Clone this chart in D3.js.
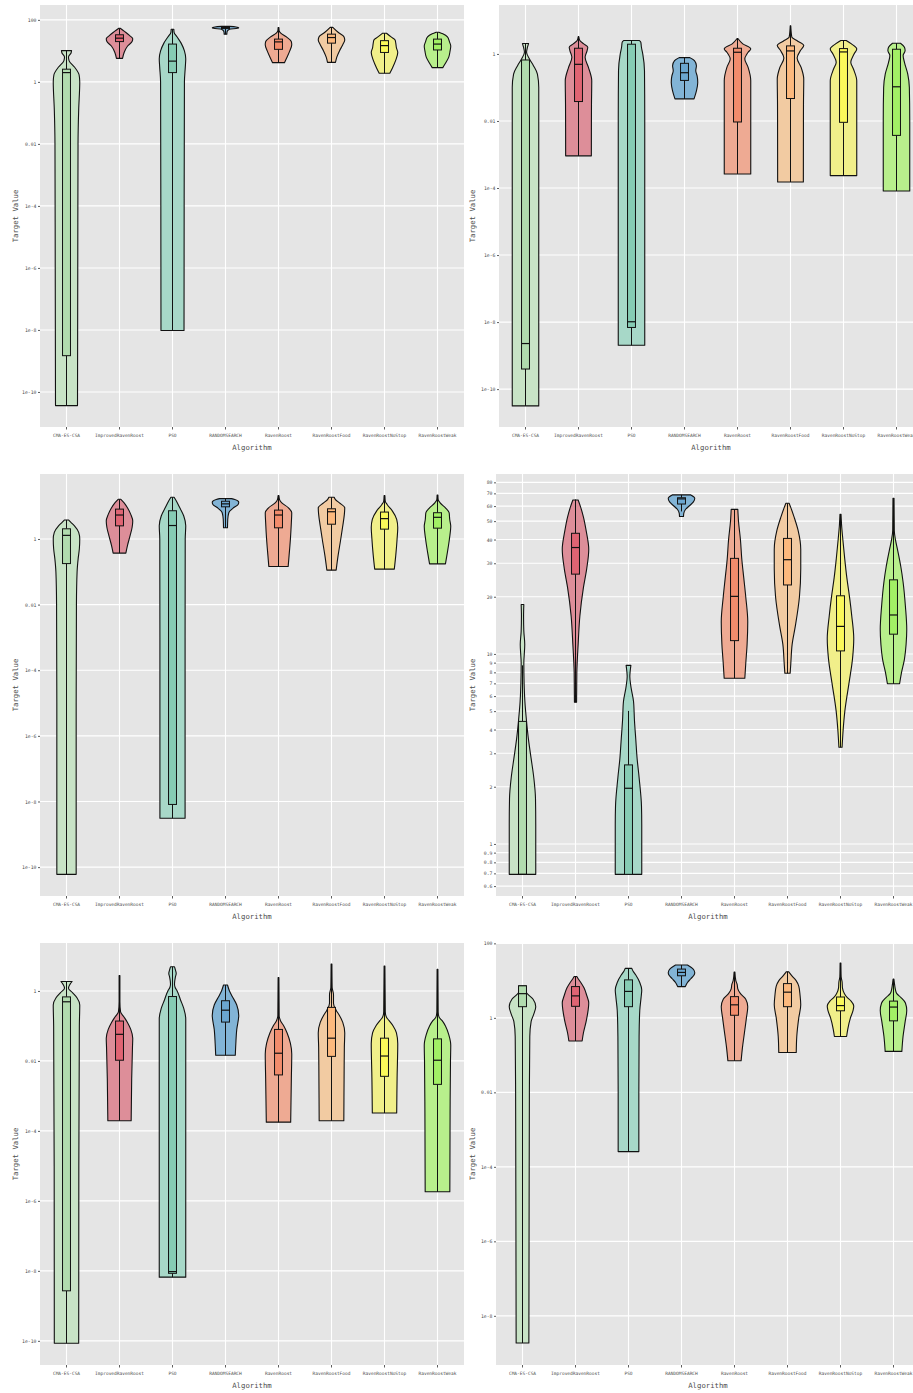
<!DOCTYPE html>
<html>
<head>
<meta charset="utf-8">
<script src="https://cdn.jsdelivr.net/npm/d3@7"></script>
<style>
  body { margin: 0; background: #fff; }
  svg { display: block; }
</style>
</head>
<body>
<div id="chart"></div>
<script>
// algorithms on the x axis, same order in every panel
const algorithms = ['CMA-ES-CSA', 'ImprovedRavenRoost', 'PSO', 'RANDOMSEARCH',
  'RavenRoost', 'RavenRoostFood', 'RavenRoostNoStop', 'RavenRoostWeak'];
const violinFills = ['#c8e3c6', '#dd8e99', '#a7d8c8', '#82b4d6', '#eeaa93', '#f2cba2', '#f1ef8a', '#b8ef8c'];
const boxFills = ['#b1dcae', '#e06473', '#86ccb4', '#6ba6d0', '#f28c6c', '#fdb97d', '#fbf95a', '#a2f065'];

// All values below are log10(Target Value).
// boxes: [low whisker, q1, median, q3, high whisker]
// violins: [value, relative half width] from bottom to top

// panel 1 (top left)
const p1Range = [-11.13, 2.48];
const p1Ticks = [100, 1, 0.01, 1e-4, 1e-6, 1e-8, 1e-10];
const p1TickLabels = ['100', '1', '0.01', '1e-4', '1e-6', '1e-8', '1e-10'];
const p1Boxes = [
  [-10.44, -8.83, 0.30, 0.41, 1.01], [0.76, 1.30, 1.41, 1.52, 1.73],
  [-8.02, 0.30, 0.67, 1.22, 1.70], [1.54, 1.72, 1.75, 1.77, 1.79],
  [0.62, 1.05, 1.29, 1.38, 1.75], [0.63, 1.25, 1.43, 1.54, 1.76],
  [0.28, 0.95, 1.17, 1.33, 1.57], [0.46, 1.03, 1.22, 1.38, 1.60]];
const p1Violins = [
  [[-10.44, 0.83], [-6, 0.85], [-2, 0.87], [-0.9, 0.92], [0, 1.0], [0.23, 0.95], [0.48, 0.6], [0.68, 0.2], [0.8, 0.15], [0.94, 0.35], [1.01, 0.38]],
  [[0.76, 0.23], [0.95, 0.35], [1.15, 0.6], [1.3, 0.95], [1.39, 1.0], [1.5, 0.75], [1.62, 0.4], [1.73, 0.05]],
  [[-8.02, 0.87], [-4, 0.88], [0, 0.9], [0.5, 0.97], [0.75, 1.0], [1.0, 0.9], [1.25, 0.65], [1.45, 0.35], [1.6, 0.12], [1.7, 0.1]],
  [[1.54, 0.1], [1.62, 0.12], [1.70, 0.3], [1.73, 0.9], [1.75, 1.0], [1.77, 0.8], [1.79, 0.3]],
  [[0.62, 0.45], [0.8, 0.65], [1.0, 0.85], [1.2, 1.0], [1.3, 0.97], [1.45, 0.6], [1.58, 0.15], [1.65, 0.05], [1.75, 0.03]],
  [[0.63, 0.3], [0.8, 0.4], [1.0, 0.6], [1.2, 0.85], [1.35, 1.0], [1.45, 0.95], [1.6, 0.5], [1.76, 0.1]],
  [[0.28, 0.4], [0.45, 0.6], [0.7, 0.85], [0.95, 1.0], [1.1, 0.9], [1.25, 0.85], [1.35, 0.8], [1.45, 0.5], [1.57, 0.15]],
  [[0.46, 0.4], [0.6, 0.6], [0.8, 0.85], [1.0, 0.95], [1.15, 1.0], [1.3, 0.9], [1.45, 0.75], [1.55, 0.4], [1.60, 0.1]]];

// panel 2 (top right)
const p2Range = [-11.13, 1.46];
const p2Ticks = [1, 0.01, 1e-4, 1e-6, 1e-8, 1e-10];
const p2TickLabels = ['1', '0.01', '1e-4', '1e-6', '1e-8', '1e-10'];
const p2Boxes = [
  [-10.5, -9.40, -8.64, -0.18, 0.31], [-3.04, -1.42, -0.31, 0.17, 0.52],
  [-8.69, -8.16, -7.99, 0.29, 0.40], [-1.34, -0.79, -0.56, -0.28, -0.11],
  [-3.58, -2.03, 0.05, 0.17, 0.46], [-3.82, -1.33, 0.09, 0.24, 0.84],
  [-3.63, -2.04, 0.06, 0.16, 0.40], [-4.09, -2.43, -0.98, 0.14, 0.32]];
const p2Violins = [
  [[-10.5, 1.0], [-5, 1.0], [-1, 1.0], [-0.6, 0.9], [-0.35, 0.6], [-0.15, 0.3], [0.05, 0.08], [0.2, 0.15], [0.31, 0.23]],
  [[-3.04, 0.97], [-1.5, 0.98], [-0.8, 1.0], [-0.4, 0.75], [-0.1, 0.5], [0.1, 0.65], [0.2, 0.7], [0.3, 0.4], [0.4, 0.1], [0.52, 0.02]],
  [[-8.69, 1.0], [-2, 1.0], [-0.5, 0.98], [0, 0.85], [0.2, 0.75], [0.35, 0.7], [0.40, 0.6]],
  [[-1.34, 0.72], [-1.1, 0.9], [-0.85, 1.0], [-0.65, 0.95], [-0.5, 0.85], [-0.35, 0.9], [-0.2, 0.75], [-0.11, 0.4]],
  [[-3.58, 1.0], [-1.5, 1.0], [-0.8, 1.0], [-0.4, 0.8], [-0.15, 0.55], [0.05, 0.8], [0.15, 1.0], [0.3, 0.4], [0.46, 0.03]],
  [[-3.82, 0.97], [-1.5, 0.98], [-0.75, 1.0], [-0.4, 0.8], [-0.12, 0.5], [0.1, 0.75], [0.25, 1.0], [0.38, 0.55], [0.5, 0.1], [0.84, 0.02]],
  [[-3.63, 1.0], [-1.5, 1.0], [-0.8, 1.0], [-0.45, 0.75], [-0.25, 0.55], [0, 0.8], [0.15, 1.0], [0.3, 0.6], [0.4, 0.2]],
  [[-4.09, 1.0], [-2, 1.0], [-1.0, 0.97], [-0.6, 0.85], [-0.25, 0.6], [-0.05, 0.5], [0.1, 0.65], [0.2, 0.6], [0.32, 0.3]]];

// panel 3 (middle left)
const p3Range = [-10.88, 1.98];
const p3Ticks = [1, 0.01, 1e-4, 1e-6, 1e-8, 1e-10];
const p3TickLabels = ['1', '0.01', '1e-4', '1e-6', '1e-8', '1e-10'];
const p3Boxes = [
  [-10.22, -0.75, 0.11, 0.31, 0.58], [-0.43, 0.40, 0.73, 0.91, 1.21],
  [-8.51, -8.09, 0.41, 0.86, 1.27], [0.34, 0.98, 1.07, 1.15, 1.23],
  [-0.84, 0.34, 0.73, 0.88, 1.32], [-0.95, 0.45, 0.83, 0.92, 1.27],
  [-0.92, 0.30, 0.62, 0.82, 1.32], [-0.76, 0.33, 0.66, 0.80, 1.34]];
const p3Violins = [
  [[-10.22, 0.73], [-5, 0.73], [-2, 0.75], [-1, 0.8], [-0.6, 0.88], [-0.3, 0.97], [0, 1.0], [0.2, 0.92], [0.4, 0.6], [0.5, 0.35], [0.58, 0.15]],
  [[-0.43, 0.48], [-0.2, 0.6], [0.1, 0.8], [0.35, 0.95], [0.55, 1.0], [0.75, 0.85], [0.95, 0.6], [1.1, 0.35], [1.21, 0.1]],
  [[-8.51, 0.95], [-3, 0.95], [0, 0.96], [0.4, 1.0], [0.7, 0.85], [0.95, 0.55], [1.15, 0.3], [1.27, 0.12]],
  [[0.34, 0.15], [0.6, 0.17], [0.8, 0.25], [0.95, 0.6], [1.05, 0.95], [1.12, 1.0], [1.2, 0.7], [1.23, 0.45]],
  [[-0.84, 0.73], [-0.5, 0.8], [0, 0.9], [0.5, 0.97], [0.8, 1.0], [0.95, 0.75], [1.1, 0.25], [1.2, 0.08], [1.32, 0.03]],
  [[-0.95, 0.35], [-0.5, 0.5], [0, 0.7], [0.4, 0.85], [0.75, 0.97], [0.95, 1.0], [1.1, 0.6], [1.2, 0.3], [1.27, 0.2]],
  [[-0.92, 0.74], [-0.5, 0.85], [0, 0.95], [0.35, 1.0], [0.6, 0.92], [0.85, 0.6], [1.05, 0.2], [1.15, 0.06], [1.32, 0.03]],
  [[-0.76, 0.6], [-0.4, 0.75], [0, 0.9], [0.38, 1.0], [0.6, 0.92], [0.8, 0.88], [0.95, 0.6], [1.1, 0.2], [1.2, 0.05], [1.34, 0.03]]];

// panel 4 (middle right)
const p4Range = [-0.274, 1.947];
const p4Ticks = [80, 70, 60, 50, 40, 30, 20, 10, 9, 8, 7, 6, 5, 4, 3, 2, 1, 0.9, 0.8, 0.7, 0.6];
const p4TickLabels = ['80', '70', '60', '50', '40', '30', '20', '10', '9', '8', '7', '6', '5', '4', '3', '2', '1', '0.9', '0.8', '0.7', '0.6'];
const p4Boxes = [
  [-0.16, -0.16, -0.16, 0.645, 0.94], [0.746, 1.42, 1.56, 1.635, 1.813],
  [-0.16, -0.16, 0.293, 0.416, 0.70], [1.75, 1.789, 1.816, 1.822, 1.837],
  [0.872, 1.07, 1.303, 1.503, 1.761], [0.898, 1.363, 1.496, 1.608, 1.793],
  [0.509, 1.016, 1.145, 1.306, 1.735], [0.843, 1.104, 1.205, 1.39, 1.819]];
const p4Violins = [
  [[-0.16, 1.0], [0.1, 1.0], [0.24, 0.98], [0.35, 0.85], [0.45, 0.65], [0.55, 0.45], [0.65, 0.3], [0.75, 0.18], [0.85, 0.12], [0.95, 0.1], [1.05, 0.17], [1.12, 0.1], [1.2, 0.08], [1.26, 0.1]],
  [[0.746, 0.08], [0.9, 0.1], [1.05, 0.2], [1.2, 0.33], [1.35, 0.6], [1.45, 0.85], [1.55, 1.0], [1.65, 0.8], [1.72, 0.6], [1.77, 0.4], [1.81, 0.2]],
  [[-0.16, 1.0], [0.1, 1.0], [0.2, 0.98], [0.35, 0.8], [0.45, 0.65], [0.55, 0.55], [0.65, 0.45], [0.75, 0.38], [0.82, 0.2], [0.88, 0.1], [0.94, 0.18]],
  [[1.723, 0.15], [1.74, 0.17], [1.76, 0.3], [1.78, 0.6], [1.80, 0.9], [1.82, 1.0], [1.837, 0.7]],
  [[0.872, 0.78], [0.95, 0.85], [1.05, 0.95], [1.17, 1.0], [1.3, 0.85], [1.4, 0.7], [1.5, 0.55], [1.6, 0.45], [1.7, 0.3], [1.761, 0.25]],
  [[0.898, 0.2], [0.95, 0.25], [1.05, 0.35], [1.15, 0.6], [1.3, 0.9], [1.45, 1.0], [1.55, 1.0], [1.65, 0.8], [1.72, 0.5], [1.77, 0.25], [1.793, 0.12]],
  [[0.509, 0.12], [0.6, 0.2], [0.7, 0.33], [0.85, 0.65], [0.97, 0.9], [1.08, 1.0], [1.2, 0.85], [1.3, 0.68], [1.4, 0.48], [1.5, 0.32], [1.6, 0.18], [1.68, 0.08], [1.735, 0.04]],
  [[0.843, 0.46], [0.9, 0.6], [0.97, 0.82], [1.05, 0.95], [1.13, 1.0], [1.25, 0.9], [1.38, 0.72], [1.46, 0.55], [1.55, 0.3], [1.6, 0.15], [1.65, 0.06], [1.819, 0.04]]];

// panel 5 (bottom left)
const p5Range = [-10.69, 1.37];
const p5Ticks = [1, 0.01, 1e-4, 1e-6, 1e-8, 1e-10];
const p5TickLabels = ['1', '0.01', '1e-4', '1e-6', '1e-8', '1e-10'];
const p5Boxes = [
  [-10.07, -8.57, -0.31, -0.17, 0.27], [-3.71, -1.98, -1.24, -0.86, 0.44],
  [-8.18, -8.07, -8.02, -0.16, 0.69], [-1.84, -0.89, -0.55, -0.28, 0.17],
  [-3.75, -2.40, -1.78, -1.10, 0.38], [-3.71, -1.87, -1.35, -0.47, 0.77],
  [-3.49, -2.44, -1.86, -1.35, 0.71], [-5.74, -2.67, -1.98, -1.37, 0.62]];
const p5Violins = [
  [[-10.07, 0.92], [-5, 0.93], [-1, 0.97], [-0.4, 1.0], [-0.2, 0.8], [-0.05, 0.45], [0.08, 0.15], [0.18, 0.25], [0.27, 0.42]],
  [[-3.71, 0.88], [-2.5, 0.92], [-1.6, 0.98], [-1.35, 1.0], [-1.1, 0.85], [-0.9, 0.6], [-0.75, 0.35], [-0.6, 0.08], [-0.3, 0.03], [0.44, 0.03]],
  [[-8.18, 1.0], [-2, 1.0], [-0.8, 1.0], [-0.5, 0.85], [-0.25, 0.6], [0, 0.35], [0.1, 0.2], [0.2, 0.15], [0.4, 0.22], [0.5, 0.28], [0.6, 0.22], [0.69, 0.15]],
  [[-1.84, 0.74], [-1.5, 0.78], [-1.1, 0.85], [-0.7, 1.0], [-0.4, 0.85], [-0.15, 0.5], [0, 0.3], [0.17, 0.15]],
  [[-3.75, 0.92], [-2.5, 0.97], [-1.8, 1.0], [-1.5, 0.9], [-1.2, 0.65], [-1.0, 0.4], [-0.85, 0.15], [-0.7, 0.05], [0.38, 0.03]],
  [[-3.71, 0.93], [-2.5, 0.95], [-1.6, 0.97], [-1.2, 1.0], [-0.9, 0.85], [-0.7, 0.6], [-0.55, 0.35], [-0.35, 0.15], [-0.1, 0.15], [0.1, 0.05], [0.77, 0.03]],
  [[-3.49, 0.92], [-2.5, 0.95], [-1.5, 1.0], [-1.2, 0.9], [-1.0, 0.65], [-0.85, 0.35], [-0.75, 0.15], [-0.6, 0.06], [0.71, 0.03]],
  [[-5.74, 0.93], [-3.5, 0.95], [-2, 0.98], [-1.55, 1.0], [-1.25, 0.85], [-1.0, 0.6], [-0.85, 0.35], [-0.75, 0.12], [-0.6, 0.05], [0.62, 0.03]]];

// panel 6 (bottom right)
const p6Range = [-9.32, 2.01];
const p6Ticks = [100, 1, 0.01, 1e-4, 1e-6, 1e-8];
const p6TickLabels = ['100', '1', '0.01', '1e-4', '1e-6', '1e-8'];
const p6Boxes = [
  [-8.73, 0.30, 0.65, 0.86, 0.86], [-0.62, 0.31, 0.59, 0.84, 1.11],
  [-3.59, 0.30, 0.71, 1.02, 1.33], [0.84, 1.13, 1.22, 1.31, 1.42],
  [-1.15, 0.07, 0.35, 0.57, 1.23], [-0.93, 0.30, 0.69, 0.92, 1.24],
  [-0.5, 0.19, 0.33, 0.56, 1.47], [-0.9, -0.08, 0.29, 0.45, 1.04]];
const p6Violins = [
  [[-8.73, 0.48], [-5, 0.5], [-2, 0.52], [-0.5, 0.55], [-0.1, 0.65], [0.1, 0.85], [0.3, 1.0], [0.5, 0.8], [0.62, 0.45], [0.68, 0.3], [0.86, 0.28]],
  [[-0.62, 0.5], [-0.4, 0.6], [-0.1, 0.8], [0.2, 0.95], [0.4, 1.0], [0.6, 0.85], [0.8, 0.65], [0.95, 0.4], [1.05, 0.2], [1.11, 0.1]],
  [[-3.59, 0.78], [-2, 0.78], [-0.5, 0.8], [0.2, 0.85], [0.55, 0.95], [0.75, 1.0], [0.95, 0.85], [1.15, 0.55], [1.25, 0.35], [1.33, 0.25]],
  [[0.84, 0.29], [0.95, 0.45], [1.05, 0.7], [1.15, 0.95], [1.22, 1.0], [1.32, 0.85], [1.42, 0.45]],
  [[-1.15, 0.5], [-0.8, 0.6], [-0.4, 0.75], [0, 0.9], [0.3, 1.0], [0.5, 0.85], [0.65, 0.45], [0.78, 0.25], [0.9, 0.2], [1.0, 0.1], [1.23, 0.03]],
  [[-0.93, 0.66], [-0.5, 0.7], [0, 0.85], [0.35, 1.0], [0.6, 0.95], [0.85, 0.85], [1.0, 0.65], [1.12, 0.35], [1.24, 0.08]],
  [[-0.5, 0.46], [-0.3, 0.55], [0, 0.75], [0.2, 0.95], [0.32, 1.0], [0.45, 0.8], [0.55, 0.5], [0.65, 0.3], [0.8, 0.15], [0.97, 0.12], [1.1, 0.05], [1.47, 0.03]],
  [[-0.9, 0.63], [-0.5, 0.72], [-0.1, 0.88], [0.2, 1.0], [0.4, 0.9], [0.55, 0.55], [0.65, 0.25], [0.75, 0.15], [0.85, 0.1], [1.04, 0.03]]];

// panel placement on the page (plot area rectangles)
const panels = [
  { x: 40,  y: 5,   range: p1Range, ticks: p1Ticks, labels: p1TickLabels, boxes: p1Boxes, violins: p1Violins, titleX: 16 },
  { x: 499, y: 5,   range: p2Range, ticks: p2Ticks, labels: p2TickLabels, boxes: p2Boxes, violins: p2Violins, titleX: 473 },
  { x: 40,  y: 474, range: p3Range, ticks: p3Ticks, labels: p3TickLabels, boxes: p3Boxes, violins: p3Violins, titleX: 16 },
  { x: 496, y: 474, range: p4Range, ticks: p4Ticks, labels: p4TickLabels, boxes: p4Boxes, violins: p4Violins, titleX: 473 },
  { x: 40,  y: 943, range: p5Range, ticks: p5Ticks, labels: p5TickLabels, boxes: p5Boxes, violins: p5Violins, titleX: 16 },
  { x: 496, y: 943, range: p6Range, ticks: p6Ticks, labels: p6TickLabels, boxes: p6Boxes, violins: p6Violins, titleX: 473 }];

const width = 913, height = 1393;
const plotW = 424, plotH = 422;
const font = '"DejaVu Sans Mono", monospace';

const svg = d3.select('#chart').append('svg')
  .attr('width', width)
  .attr('height', height);

svg.append('rect')
  .attr('width', width)
  .attr('height', height)
  .attr('fill', '#fff');

function drawPanel(p) {
  const g = svg.append('g').attr('transform', `translate(${p.x},${p.y})`);

  const x = d3.scaleBand().domain(algorithms).range([0, plotW]);
  const y = d3.scaleLog()
    .domain([Math.pow(10, p.range[0]), Math.pow(10, p.range[1])])
    .range([plotH, 0]);
  const toY = e => y(Math.pow(10, e));
  const half = x.bandwidth() * 0.25;   // violin max half width
  const boxW = x.bandwidth() * 0.15;

  // panel background + grid
  g.append('rect')
    .attr('width', plotW)
    .attr('height', plotH)
    .attr('fill', '#e5e5e5');

  g.selectAll('line.hgrid')
    .data(p.ticks)
    .join('line')
    .classed('hgrid', true)
    .attr('x1', 0).attr('x2', plotW)
    .attr('y1', d => y(d)).attr('y2', d => y(d))
    .attr('stroke', '#fff')
    .attr('stroke-width', 1.1);

  g.selectAll('line.vgrid')
    .data(algorithms)
    .join('line')
    .classed('vgrid', true)
    .attr('x1', d => x(d) + x.bandwidth() / 2).attr('x2', d => x(d) + x.bandwidth() / 2)
    .attr('y1', 0).attr('y2', plotH)
    .attr('stroke', '#fff')
    .attr('stroke-width', 1.1);

  // y axis: ticks + labels
  const yAxis = d3.axisLeft(y)
    .tickValues(p.ticks)
    .tickFormat((d, i) => p.labels[i])
    .tickSize(2)
    .tickPadding(1.5);
  const ya = g.append('g').call(yAxis);
  ya.select('.domain').remove();
  ya.selectAll('line').attr('stroke', '#333').attr('stroke-width', 0.8);
  ya.selectAll('text')
    .attr('font-family', font)
    .attr('font-size', 4.8)
    .attr('fill', '#4d4d4d');

  // x axis
  const xAxis = d3.axisBottom(x).tickSize(2.5).tickPadding(4);
  const xa = g.append('g').attr('transform', `translate(0,${plotH})`).call(xAxis);
  xa.select('.domain').remove();
  xa.selectAll('line').attr('stroke', '#333').attr('stroke-width', 0.8);
  xa.selectAll('text')
    .attr('font-family', font)
    .attr('font-size', 4.5)
    .attr('fill', '#4d4d4d');

  // violins
  const area = d3.area()
    .curve(d3.curveMonotoneY)
    .y(d => toY(d[0]));

  algorithms.forEach((name, i) => {
    const cx = x(name) + x.bandwidth() / 2;
    area.x0(d => cx - d[1] * half).x1(d => cx + d[1] * half);
    g.append('path')
      .datum(p.violins[i])
      .attr('d', area)
      .attr('fill', violinFills[i])
      .attr('stroke', '#111')
      .attr('stroke-width', 1.1)
      .attr('stroke-linejoin', 'round');

    // box plot on top
    const [lo, q1, med, q3, hi] = p.boxes[i];
    const bg = g.append('g').attr('stroke', '#111').attr('stroke-width', 1);
    bg.append('line')
      .attr('x1', cx).attr('x2', cx)
      .attr('y1', toY(lo)).attr('y2', toY(q1));
    bg.append('line')
      .attr('x1', cx).attr('x2', cx)
      .attr('y1', toY(q3)).attr('y2', toY(hi));
    bg.append('rect')
      .attr('x', cx - boxW / 2)
      .attr('y', toY(q3))
      .attr('width', boxW)
      .attr('height', Math.max(0.5, toY(q1) - toY(q3)))
      .attr('fill', boxFills[i]);
    bg.append('line')
      .attr('x1', cx - boxW / 2).attr('x2', cx + boxW / 2)
      .attr('y1', toY(med)).attr('y2', toY(med))
      .attr('stroke-width', 1.2);
  });

  // axis titles
  g.append('text')
    .attr('x', plotW / 2)
    .attr('y', plotH + 23)
    .attr('text-anchor', 'middle')
    .attr('font-family', font)
    .attr('font-size', 7.3)
    .attr('fill', '#4d4d4d')
    .text('Algorithm');

  svg.append('text')
    .attr('transform', `translate(${p.titleX},${p.y + plotH / 2}) rotate(-90)`)
    .attr('text-anchor', 'middle')
    .attr('dominant-baseline', 'middle')
    .attr('font-family', font)
    .attr('font-size', 7.3)
    .attr('fill', '#4d4d4d')
    .text('Target Value');
}

panels.forEach(drawPanel);
</script>
</body>
</html>
